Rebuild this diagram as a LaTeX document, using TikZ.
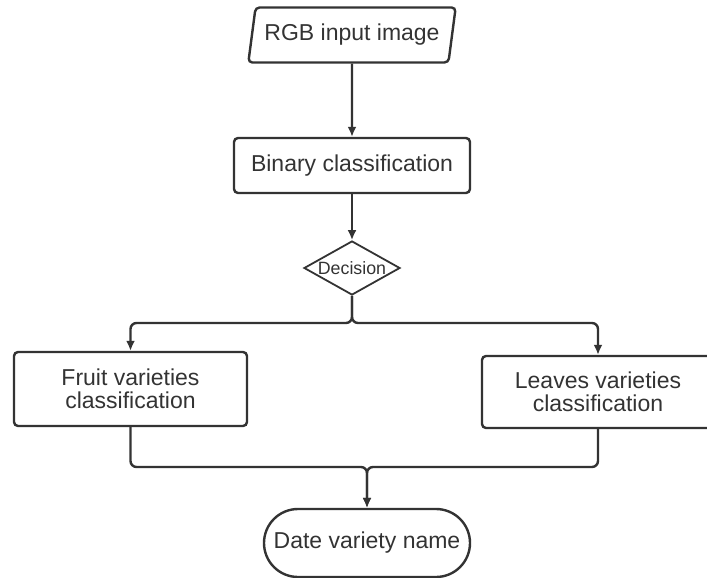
\documentclass[tikz,border=0pt]{standalone}
\usepackage{fontspec}
\setmainfont{Liberation Sans}
\usetikzlibrary{shapes.geometric,shapes.misc,arrows.meta}
\definecolor{ink}{HTML}{333333}
\newcommand{\bx}{\fontsize{11.5}{11.5}\selectfont}

\begin{document}
\begin{tikzpicture}[x=0.5pt,y=-0.5pt,
   io/.style={draw=ink,line width=1.2pt,text=ink,font=\bx,trapezium,trapezium left angle=73,
      trapezium right angle=107,trapezium stretches=true,rounded corners=2pt,
      minimum width=104pt,minimum height=27.5pt,inner sep=0pt},
   proc/.style={draw=ink,line width=1.2pt,text=ink,font=\bx,rectangle,rounded corners=2pt,
      minimum width=118pt,minimum height=27.5pt,inner sep=0pt,align=center},
   choice/.style={draw=ink,line width=0.9pt,text=ink,font=\fontsize{8.9}{10}\selectfont,
      diamond,aspect=1.78,minimum width=48pt,minimum height=27pt,inner sep=0pt},
   term/.style={draw=ink,line width=1.2pt,text=ink,font=\bx,rounded rectangle,
      minimum width=103pt,minimum height=34pt,inner sep=0pt},
   link/.style={ink,line width=1.2pt,rounded corners=3pt,-{Latex[length=5pt,width=4.5pt]}}]
   \useasboundingbox (0,0) rectangle (707,578);
   % boxes
   \node[io] (rgb) at (352,35) {RGB input image};
   \node[proc] (bin) at (352,165.5) {Binary classification};
   \node[choice] (dec) at (352,268) {Decision};
   \node[proc,minimum width=116.5pt,minimum height=37pt] (fruit) at (130.5,389) {Fruit varieties\\classification};
   \node[proc,minimum width=116pt,minimum height=36pt] (leaves) at (598,392) {Leaves varieties\\classification};
   \node[term] (name) at (367,543) {Date variety name};
   \coordinate (split) at (352,323);
   \coordinate (join) at (367,467);
   % connectors
   \draw[link] (rgb) -- (bin);
   \draw[link] (bin) -- (dec);
   \draw[link] (dec.south) -- (split) -| (fruit.north);
   \draw[link] (dec.south) -- (split) -| (leaves.north);
   \draw[link] (fruit.south) |- (join) -- (name.north);
   \draw[link] (leaves.south) |- (join) -- (name.north);
\end{tikzpicture}
\end{document}
